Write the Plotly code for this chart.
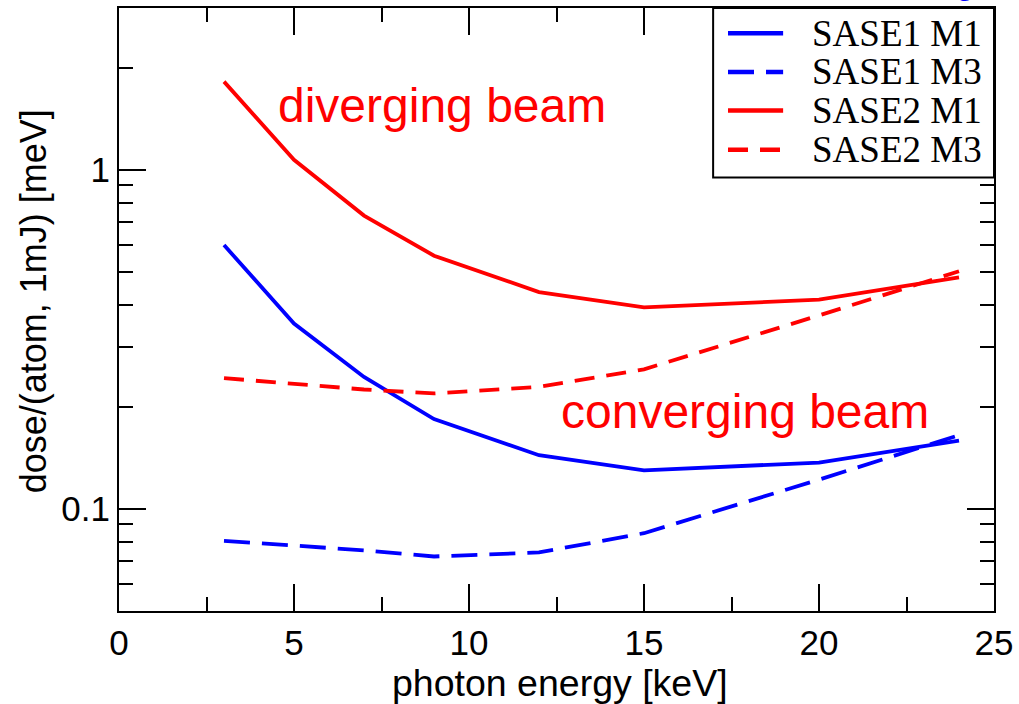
import math
import plotly.graph_objects as go

# photon energies [keV]
energy = [3, 5, 7, 9, 12, 15, 20, 24]

# dose per atom for a 1 mJ pulse [meV]
sase1_m1 = [0.600, 0.352, 0.245, 0.184, 0.144, 0.130, 0.137, 0.159]
sase1_m3 = [0.0805, 0.078, 0.0755, 0.0724, 0.0744, 0.0848, 0.122, 0.165]
sase2_m1 = [1.82, 1.07, 0.733, 0.558, 0.436, 0.393, 0.414, 0.482]
sase2_m3 = [0.243, 0.234, 0.225, 0.219, 0.229, 0.258, 0.372, 0.502]

series_names = ["SASE1 M1", "SASE1 M3", "SASE2 M1", "SASE2 M3"]
series_values = [sase1_m1, sase1_m3, sase2_m1, sase2_m3]
series_colors = ["#0000ff", "#0000ff", "#ff0000", "#ff0000"]
series_dash = ["solid", "26px,12px", "solid", "20px,12px"]

y_major = [0.1, 1]
y_major_text = ["0.1", "1"]
y_minor = [0.05, 0.06, 0.07, 0.08, 0.09, 0.2, 0.3, 0.4, 0.5, 0.6, 0.7, 0.8, 0.9, 2, 3]

SANS = "Liberation Sans, Arial, sans-serif"
SERIF = "Liberation Serif, Times New Roman, serif"

fig = go.Figure()
for name, vals, col, dash in zip(series_names, series_values, series_colors, series_dash):
    fig.add_trace(go.Scatter(x=energy, y=vals, mode="lines", name=name,
                             line=dict(color=col, width=3.8, dash=dash),
                             showlegend=False))

axis_common = dict(showline=True, linewidth=2, linecolor="black", mirror="ticks",
                   ticks="inside", tickwidth=2, tickcolor="black", ticklen=27,
                   showgrid=False, zeroline=False,
                   tickfont=dict(family=SANS, size=35, color="black"))

fig.update_xaxes(range=[0, 25], tick0=0, dtick=5,
                 minor=dict(dtick=2.5, ticks="inside", ticklen=14, tickwidth=2,
                            tickcolor="black", showgrid=False),
                 **axis_common)
fig.update_yaxes(type="log", range=[math.log10(0.05), math.log10(3)],
                 tickmode="array", tickvals=y_major, ticktext=y_major_text,
                 minor=dict(tickmode="array", tickvals=y_minor, ticks="inside",
                            ticklen=14, tickwidth=2, tickcolor="black", showgrid=False),
                 **axis_common)

# axis titles
fig.add_annotation(text="photon energy [keV]", xref="paper", yref="paper",
                   x=0.504, y=-0.119, xanchor="center", yanchor="middle",
                   showarrow=False,
                   font=dict(family=SANS, size=37.5, color="black"))
fig.add_annotation(text="dose/(atom, 1mJ) [meV]", xref="paper", yref="paper",
                   x=-0.098, y=0.514, xanchor="center", yanchor="middle",
                   textangle=-90, showarrow=False,
                   font=dict(family=SANS, size=36, color="black"))

# region labels
fig.add_annotation(text="diverging beam", xref="paper", yref="paper",
                   x=0.369, y=0.838, xanchor="center", yanchor="middle",
                   showarrow=False,
                   font=dict(family=SANS, size=48, color="#ff0000"))
fig.add_annotation(text="converging beam", xref="paper", yref="paper",
                   x=0.715, y=0.331, xanchor="center", yanchor="middle",
                   showarrow=False,
                   font=dict(family=SANS, size=48, color="#ff0000"))

# tail of a blue heading sitting just above the page edge
fig.add_annotation(text="g", xref="paper", yref="paper",
                   x=0.967, y=1.0083, xanchor="center", yanchor="bottom",
                   showarrow=False,
                   font=dict(family=SANS, size=36, color="#0000ff"))

# boxed key in the upper right corner
fig.add_shape(type="rect", xref="paper", yref="paper",
              x0=0.679, x1=1.0, y0=0.719, y1=1.0,
              line=dict(color="black", width=2), fillcolor="white", layer="above")
row_y = [0.958, 0.894, 0.830, 0.765]
for name, col, dash, ry in zip(series_names, series_colors, series_dash, row_y):
    fig.add_shape(type="line", xref="paper", yref="paper",
                  x0=0.696, x1=0.759, y0=ry, y1=ry, layer="above",
                  line=dict(color=col, width=4.5, dash=dash))
    fig.add_annotation(text=name, xref="paper", yref="paper", x=0.790, y=ry,
                       xanchor="left", yanchor="middle", showarrow=False,
                       font=dict(family=SERIF, size=37, color="black"))

fig.update_layout(width=1019, height=704, autosize=False,
                  margin=dict(l=119, r=25, t=6, b=93),
                  paper_bgcolor="white", plot_bgcolor="white",
                  showlegend=False)

fig.write_html("out.html")
